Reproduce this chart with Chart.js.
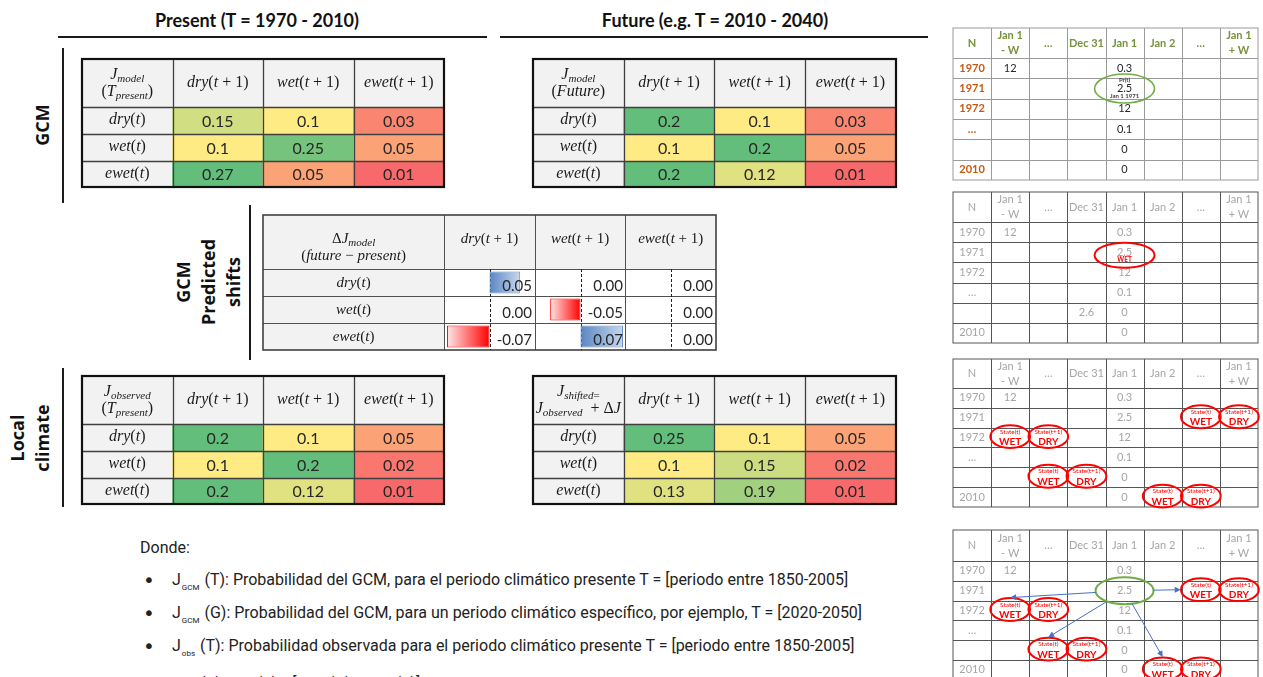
<!DOCTYPE html>
<html><head><meta charset="utf-8">
<script src="https://cdn.jsdelivr.net/npm/chart.js@4.4.1/dist/chart.umd.min.js"></script>
<style>
html,body{margin:0;padding:0;background:#fff;width:1263px;height:677px;overflow:hidden;position:relative;}
.title{position:absolute;font:700 18px Lato;line-height:24px;color:#111;white-space:nowrap;transform:translateX(-50%);}
.rule{position:absolute;background:#1a1a1a;}
.rot{position:absolute;font:700 18px 'Open Sans';line-height:25px;text-align:center;white-space:nowrap;color:#111;transform:translate(-50%,-50%) rotate(-90deg);}
.note{position:absolute;font:400 16px Roboto;line-height:20px;color:#222;white-space:nowrap;}
.bul{position:absolute;font:400 20px 'DejaVu Sans';line-height:20px;color:#222;}
.sb{font-size:8px;position:relative;top:5px;margin:0 1px;}
canvas{position:absolute;}
</style></head><body>

<div class="title" style="left:257px;top:8px">Present (T = 1970 - 2010)</div>
<div class="title" style="left:715px;top:8px">Future (e.g. T = 2010 - 2040)</div>
<div class="rule" style="left:58px;top:36px;width:429px;height:2px"></div>
<div class="rule" style="left:500px;top:36px;width:428px;height:2px"></div>
<div class="rule" style="left:62px;top:48px;width:2px;height:155px"></div>
<div class="rule" style="left:62px;top:368px;width:2px;height:139px"></div>
<div class="rule" style="left:249px;top:205px;width:2px;height:155px"></div>
<div class="rot" style="left:42px;top:125px">GCM</div>
<div class="rot" style="left:208px;top:282px">GCM<br>Predicted<br>shifts</div>
<div class="rot" style="left:30px;top:438px">Local<br>climate</div>

<div class="note" style="left:140px;top:538px">Donde:</div>
<div class="bul" style="left:143px;top:570px">•</div>
<div class="note" style="left:172px;top:570px">J<span class="sb">GCM</span> (T): Probabilidad del GCM, para el periodo climático presente T = [periodo entre 1850-2005]</div>
<div class="bul" style="left:143px;top:603px">•</div>
<div class="note" style="left:172px;top:603px">J<span class="sb">GCM</span> (G): Probabilidad del GCM, para un periodo climático específico, por ejemplo, T = [2020-2050]</div>
<div class="bul" style="left:143px;top:636px">•</div>
<div class="note" style="left:172px;top:636px">J<span class="sb">obs</span> (T): Probabilidad observada para el periodo climático presente T = [periodo entre 1850-2005]</div>
<div class="bul" style="left:143px;top:674px">•</div>
<div class="note" style="left:172px;top:674px">J<span class="sb">obs</span> (Y): J<span class="sb">obs</span> (T) * [J<span class="sb">GCM</span> (G) - J<span class="sb">GCM</span> (T)]: Probabilidad para el periodo proyectado</div>

<script>
// ================= DATA =================
const colHeaders = ['dry(t + 1)', 'wet(t + 1)', 'ewet(t + 1)'];
const rowHeaders = ['dry(t)', 'wet(t)', 'ewet(t)'];

const gcmPresent      = [[0.15, 0.1, 0.03], [0.1, 0.25, 0.05], [0.27, 0.05, 0.01]];
const gcmFuture       = [[0.2, 0.1, 0.03],  [0.1, 0.2, 0.05],  [0.2, 0.12, 0.01]];
const deltaModel      = [[0.05, 0.00, 0.00], [0.00, -0.05, 0.00], [-0.07, 0.07, 0.00]];
const observedPresent = [[0.2, 0.1, 0.05],  [0.1, 0.2, 0.02],  [0.2, 0.12, 0.01]];
const shiftedFuture   = [[0.25, 0.1, 0.05], [0.1, 0.15, 0.02], [0.13, 0.19, 0.01]];

const headPresent  = ['J_{model}', '(T_{present})'];
const headFuture   = ['J_{model}', '(Future)'];
const headDelta    = ['ΔJ_{model}', '(future − present)'];
const headObserved = ['J_{observed}', '(T_{present})'];
const headShifted  = ['J_{shifted=}', 'J_{observed}  + ΔJ'];

const gridHeaders    = ['N', 'Jan 1\n- W', '…', 'Dec 31', 'Jan 1', 'Jan 2', '…', 'Jan 1\n+ W'];
const gridYears      = ['1970', '1971', '1972', '…', '', '2010'];
const janMinusWVals  = ['12', '', '', '', '', ''];
const dec31Vals      = ['', '', '', '', '2.6', ''];
const jan1Vals       = ['0.3', '2.5', '12', '0.1', '0', '0'];
const statePairs     = [[1, 6], [2, 1], [4, 2], [5, 5]]; // [year row, column of State(t)]

// ================= HELPERS =================
function mount(left, top, w, h) {
  const c = document.createElement('canvas');
  c.width = w; c.height = h;
  c.style.left = left + 'px'; c.style.top = top + 'px';
  c.style.width = w + 'px'; c.style.height = h + 'px';
  document.body.appendChild(c);
  return c;
}
function drawText(ctx, t, x, y, font, color, align) {
  ctx.save(); ctx.font = font; ctx.fillStyle = color;
  ctx.textAlign = align || 'center'; ctx.textBaseline = 'middle';
  ctx.fillText(t, x, y); ctx.restore();
}
function parseMath(str) {
  const segs = []; let i = 0;
  while (i < str.length) {
    if (str[i] === '_' && str[i + 1] === '{') {
      const j = str.indexOf('}', i); segs.push({ t: str.slice(i + 2, j), sub: true }); i = j + 1;
    } else {
      let j = i; while (j < str.length && !(str[j] === '_' && str[j + 1] === '{')) j++;
      segs.push({ t: str.slice(i, j), sub: false }); i = j;
    }
  }
  const runs = [];
  segs.forEach(s => { for (const ch of s.t) {
    const it = /[A-Za-z]/.test(ch); const last = runs[runs.length - 1];
    if (last && last.it === it && last.sub === s.sub) last.t += ch; else runs.push({ t: ch, it, sub: s.sub });
  }});
  return runs;
}
function drawMath(ctx, str, cx, cy, size, color) {
  const runs = parseMath(str);
  const fontOf = r => `${r.it ? 'italic ' : ''}${r.sub ? Math.round(size * 0.7) : size}px 'Liberation Serif'`;
  let w = 0;
  ctx.save();
  runs.forEach(r => { ctx.font = fontOf(r); r.w = ctx.measureText(r.t).width; w += r.w; });
  let x = cx - w / 2;
  ctx.fillStyle = color || '#1a1a1a'; ctx.textBaseline = 'alphabetic'; ctx.textAlign = 'left';
  runs.forEach(r => { ctx.font = fontOf(r); ctx.fillText(r.t, x, cy + size * 0.3 + (r.sub ? size * 0.22 : 0)); x += r.w; });
  ctx.restore();
}
function scale3(vals) {
  const s = [...vals].sort((a, b) => a - b), n = s.length;
  const pos = (n - 1) * 0.5, lo = Math.floor(pos);
  const mid = s[lo] + (s[Math.min(lo + 1, n - 1)] - s[lo]) * (pos - lo);
  const min = s[0], max = s[n - 1];
  const cRed = [248, 105, 107], cYel = [255, 235, 132], cGrn = [99, 190, 123];
  return v => {
    let a, b, t;
    if (v <= mid) { a = cRed; b = cYel; t = (v - min) / ((mid - min) || 1); }
    else { a = cYel; b = cGrn; t = (v - mid) / ((max - mid) || 1); }
    return `rgb(${a.map((x, i) => Math.round(x + (b[i] - x) * t)).join(',')})`;
  };
}
function ellipse(ctx, cx, cy, rx, ry, color, lw) {
  ctx.save(); ctx.beginPath(); ctx.ellipse(cx, cy, rx, ry, 0, 0, Math.PI * 2);
  ctx.strokeStyle = color; ctx.lineWidth = lw; ctx.stroke(); ctx.restore();
}

// Generic table drawn as stacked bars (one dataset per row, one category per column)
function gridChart(o) {
  const pad = 3;
  const W = o.nCols * o.colW, H = o.rowHs.reduce((a, b) => a + b, 0);
  const cw = Math.ceil(W + 2 * pad), ch = Math.ceil(H + 2 * pad);
  const canvas = mount(o.left - pad, o.top - pad, cw, ch);
  const datasets = o.rowHs.map((h, r) => ({
    data: Array(o.nCols).fill(h),
    backgroundColor: ctx => o.fill(r, ctx.dataIndex),
    borderWidth: 0, barPercentage: 1, categoryPercentage: 1
  }));
  return new Chart(canvas, {
    type: 'bar',
    data: { labels: Array.from({ length: o.nCols }, (_, i) => 'c' + i), datasets },
    options: {
      responsive: false, animation: false, devicePixelRatio: 1, events: [],
      layout: { padding: { left: pad, top: pad, right: cw - W - pad, bottom: ch - H - pad } },
      plugins: { legend: { display: false }, tooltip: { enabled: false } },
      scales: {
        x: { display: false, stacked: true },
        y: { display: false, stacked: true, reverse: true, min: 0, max: H }
      }
    },
    plugins: [{
      id: 'cells',
      afterDatasetsDraw(chart) {
        const ctx = chart.ctx;
        const cells = chart.data.datasets.map((d, i) => chart.getDatasetMeta(i).data.map(el => {
          const p = el.getProps(['x', 'y', 'base', 'width'], true);
          const x0 = p.x - p.width / 2, x1 = p.x + p.width / 2;
          const y0 = Math.min(p.y, p.base), y1 = Math.max(p.y, p.base);
          return { x0, x1, y0, y1, cx: (x0 + x1) / 2, cy: (y0 + y1) / 2, w: x1 - x0, h: y1 - y0 };
        }));
        const xs = [cells[0][0].x0, ...cells[0].map(c => c.x1)];
        const ys = [cells[0][0].y0, ...cells.map(row => row[0].y1)];
        const L = xs[0], R = xs[xs.length - 1], T = ys[0], B = ys[ys.length - 1];
        const snap = v => Math.round(v) + 0.5;
        ctx.save();
        ctx.strokeStyle = o.line.inner; ctx.lineWidth = o.line.innerW;
        ctx.beginPath();
        for (let i = 1; i < xs.length - 1; i++) {
          if (o.skipV && o.skipV(i)) continue;
          ctx.moveTo(snap(xs[i]), T); ctx.lineTo(snap(xs[i]), B);
        }
        for (let j = 1; j < ys.length - 1; j++) { ctx.moveTo(L, snap(ys[j])); ctx.lineTo(R, snap(ys[j])); }
        ctx.stroke();
        ctx.strokeStyle = o.line.outer; ctx.lineWidth = o.line.outerW;
        ctx.strokeRect(Math.round(L), Math.round(T), Math.round(R) - Math.round(L), Math.round(B) - Math.round(T));
        ctx.restore();
        cells.forEach((row, r) => row.forEach((cell, c) => o.text(ctx, r, c, cell, cells)));
        if (o.after) o.after(ctx, cells);
      }
    }]
  });
}

// ================= HEATMAP TABLES =================
function heatTable(left, top, colW, rowHs, head, values) {
  const colorOf = scale3(values.flat());
  gridChart({
    left, top, colW, rowHs, nCols: 4,
    fill: (r, c) => (r === 0 || c === 0) ? '#f2f2f2' : colorOf(values[r - 1][c - 1]),
    line: { inner: '#404040', innerW: 1.3, outer: '#111', outerW: 2.2 },
    text: (ctx, r, c, cell) => {
      if (r === 0 && c === 0) {
        drawMath(ctx, head[0], cell.cx, cell.cy - 9, 16);
        drawMath(ctx, head[1], cell.cx, cell.cy + 8, 16);
      } else if (r === 0) drawMath(ctx, colHeaders[c - 1], cell.cx, cell.cy - 1, 16);
      else if (c === 0) drawMath(ctx, rowHeaders[r - 1], cell.cx, cell.cy - 1, 16);
      else drawText(ctx, String(values[r - 1][c - 1]), cell.cx, cell.cy + 1, '16px Lato', '#262626');
    }
  });
}
heatTable(82, 59, 90.5, [48, 27, 27, 26], headPresent, gcmPresent);
heatTable(533, 59, 90.7, [48, 27, 27, 26], headFuture, gcmFuture);
heatTable(82, 376, 90.5, [48, 27, 27, 26], headObserved, observedPresent);
heatTable(533, 376, 90.7, [48, 27, 27, 26], headShifted, shiftedFuture);

// ================= DELTA TABLE =================
const dLeft = 263, dTop = 215, dColW = 90.6, dRows = [54, 27, 27, 27];
gridChart({
  left: dLeft, top: dTop, colW: dColW, rowHs: dRows, nCols: 5,
  fill: (r, c) => (r === 0 || c <= 1) ? '#f2f2f2' : '#ffffff',
  line: { inner: '#505050', innerW: 1, outer: '#404040', outerW: 1.6 },
  skipV: i => i === 1,
  text: (ctx, r, c, cell) => {
    if (c === 1) return;
    if (c === 0) {
      const cx = cell.x1;
      if (r === 0) { drawMath(ctx, headDelta[0], cx, cell.cy - 4, 15); drawMath(ctx, headDelta[1], cx, cell.cy + 13, 15); }
      else drawMath(ctx, rowHeaders[r - 1], cx, cell.cy, 15);
    } else if (r === 0) drawMath(ctx, colHeaders[c - 2], cell.cx, cell.cy - 4, 15);
  }
});

function deltaBars(colIdx) {
  const vals = deltaModel.map(row => row[colIdx]);
  const left = Math.round(dLeft + (colIdx + 2) * dColW), w = Math.round(dColW);
  const top = dTop + dRows[0], h = dRows[1] + dRows[2] + dRows[3];
  const canvas = mount(left, top, w, h);
  new Chart(canvas, {
    type: 'bar',
    data: { labels: rowHeaders, datasets: [{
      data: vals, barPercentage: 0.82, categoryPercentage: 1, borderSkipped: false,
      borderWidth: c => (c.raw === 0 || c.raw === undefined) ? 0 : 1,
      borderColor: c => (c.raw >= 0) ? '#5b87c5' : '#ff0000',
      backgroundColor: c => {
        const chart = c.chart, xs = chart.scales.x;
        if (c.raw === undefined || c.raw === 0 || !xs) return 'rgba(0,0,0,0)';
        const x0 = xs.getPixelForValue(0), x1 = xs.getPixelForValue(c.raw);
        if (!isFinite(x0) || !isFinite(x1)) return 'rgba(0,0,0,0)';
        const g = chart.ctx.createLinearGradient(x0, 0, x1, 0);
        if (c.raw > 0) { g.addColorStop(0, '#5a86c4'); g.addColorStop(1, '#c8d7ed'); }
        else { g.addColorStop(0, '#ff0000'); g.addColorStop(1, '#ffe6e6'); }
        return g;
      }
    }]},
    options: {
      indexAxis: 'y', responsive: false, animation: false, devicePixelRatio: 1, events: [],
      layout: { padding: 0 },
      plugins: { legend: { display: false }, tooltip: { enabled: false } },
      scales: { x: { display: false, min: -0.075, max: 0.075 }, y: { display: false } }
    },
    plugins: [{
      id: 'dbar',
      beforeDatasetsDraw(chart) {
        const ctx = chart.ctx, a = chart.chartArea;
        const x = Math.round(chart.scales.x.getPixelForValue(0)) + 0.5;
        ctx.save(); ctx.strokeStyle = '#222'; ctx.lineWidth = 1; ctx.setLineDash([3, 2]);
        ctx.beginPath(); ctx.moveTo(x, a.top); ctx.lineTo(x, a.bottom); ctx.stroke(); ctx.restore();
      },
      afterDatasetsDraw(chart) {
        const ctx = chart.ctx, a = chart.chartArea;
        chart.getDatasetMeta(0).data.forEach((el, i) => {
          drawText(ctx, vals[i].toFixed(2), a.right - 3, el.y + 3.5, '15px Lato', '#262626', 'right');
        });
      }
    }]
  });
}
[0, 1, 2].forEach(deltaBars);

// ================= RIGHT PANELS =================
const styleA = { line: '#9a9a9a', headFont: 'bold 11px Lato', headColor: '#76923c', yearFont: 'bold 11px Lato', yearColor: '#c65911', valFont: '11px Lato', valColor: '#262626' };
const styleG = { line: '#555555', headFont: '11px Lato', headColor: '#a6a6a6', yearFont: '11px Lato', yearColor: '#a6a6a6', valFont: '11px Lato', valColor: '#a6a6a6' };

function cellValue(r, c, withDec) {
  if (c === 1) return janMinusWVals[r];
  if (c === 3 && withDec) return dec31Vals[r];
  if (c === 4) return jan1Vals[r];
  return '';
}
function panel(top, rowHs, st, withDec, after) {
  gridChart({
    left: 953, top, colW: 38.125, rowHs, nCols: 8,
    fill: () => '#ffffff',
    line: { inner: st.line, innerW: 1, outer: st.line, outerW: 1 },
    text: (ctx, r, c, cell) => {
      if (r === 0) {
        const lines = gridHeaders[c].split('\n');
        lines.forEach((t, i) => drawText(ctx, t, cell.cx, cell.cy + (i - (lines.length - 1) / 2) * 15, st.headFont, st.headColor));
      } else if (c === 0) drawText(ctx, gridYears[r - 1], cell.cx, cell.cy, st.yearFont, st.yearColor);
      else { const t = cellValue(r - 1, c, withDec); if (t) drawText(ctx, t, cell.cx, cell.cy, st.valFont, st.valColor); }
    },
    after
  });
}
function drawStates(ctx, cells) {
  statePairs.forEach(([row, col]) => {
    [[col, 'State(t)', 'WET'], [col + 1, 'State(t+1)', 'DRY']].forEach(([c, a, b]) => {
      const cell = cells[row + 1][c];
      const cx = cell.cx, cy = cell.cy - 1;
      ellipse(ctx, cx, cy, cell.w / 2 + 0.8, cell.h / 2 + 1.5, '#ff0000', 2);
      drawText(ctx, a, cx, cy - 5, '6.5px Lato', '#ff0000');
      drawText(ctx, b, cx, cy + 5.5, 'bold 10px Lato', '#ff0000');
    });
  });
}
function arrow(ctx, x0, y0, x1, y1) {
  const ang = Math.atan2(y1 - y0, x1 - x0);
  ctx.save(); ctx.strokeStyle = '#4472c4'; ctx.fillStyle = '#4472c4'; ctx.lineWidth = 1;
  ctx.beginPath(); ctx.moveTo(x0, y0); ctx.lineTo(x1 - 5 * Math.cos(ang), y1 - 5 * Math.sin(ang)); ctx.stroke();
  ctx.beginPath(); ctx.moveTo(x1, y1);
  ctx.lineTo(x1 - 6 * Math.cos(ang) + 3 * Math.sin(ang), y1 - 6 * Math.sin(ang) - 3 * Math.cos(ang));
  ctx.lineTo(x1 - 6 * Math.cos(ang) - 3 * Math.sin(ang), y1 - 6 * Math.sin(ang) + 3 * Math.cos(ang));
  ctx.closePath(); ctx.fill(); ctx.restore();
}

// Panel A
panel(28, [30, 20.33, 20.33, 20.33, 20.33, 20.33, 20.35], styleA, false, (ctx, cells) => {
  const c = cells[2][4];
  ellipse(ctx, c.cx, c.cy, 30, 14.5, '#70ad47', 1.6);
  drawText(ctx, 'Pr(t)', c.cx, c.cy - 8, 'bold 6px Lato', '#404040');
  drawText(ctx, 'Jan 1 1971', c.cx, c.cy + 8, 'bold 6px Lato', '#404040');
});
// Panel B
panel(192, [30, 20.17, 20.17, 20.17, 20.17, 20.17, 20.15], styleG, true, (ctx, cells) => {
  const c = cells[2][4];
  ellipse(ctx, c.cx, c.cy + 3, 30, 12.5, '#ff0000', 2);
  drawText(ctx, 'WET', c.cx, c.cy + 8, 'bold 6.5px Lato', '#ff0000');
});
// Panel C
panel(359, [29, 19.83, 19.83, 19.83, 19.83, 19.83, 19.85], styleG, false, (ctx, cells) => drawStates(ctx, cells));
// Panel D
panel(530, [31, 19.8, 19.8, 19.8, 19.8, 19.8, 19.8], styleG, false, (ctx, cells) => {
  const g = cells[2][4], rx = 29, ry = 13.5;
  ellipse(ctx, g.cx, g.cy, rx, ry, '#70ad47', 2);
  drawStates(ctx, cells);
  statePairs.forEach(([row, col]) => {
    const t = cells[row + 1][col];
    const ex = row === 1 ? t.x0 - 1 : t.cx, ey = row === 1 ? t.cy - 1 : t.y0 - 3;
    const dx = ex - g.cx, dy = ey - g.cy;
    const k = 1 / Math.sqrt((dx / rx) ** 2 + (dy / ry) ** 2);
    arrow(ctx, g.cx + dx * k, g.cy + dy * k, ex, ey);
  });
});
</script>
</body></html>
